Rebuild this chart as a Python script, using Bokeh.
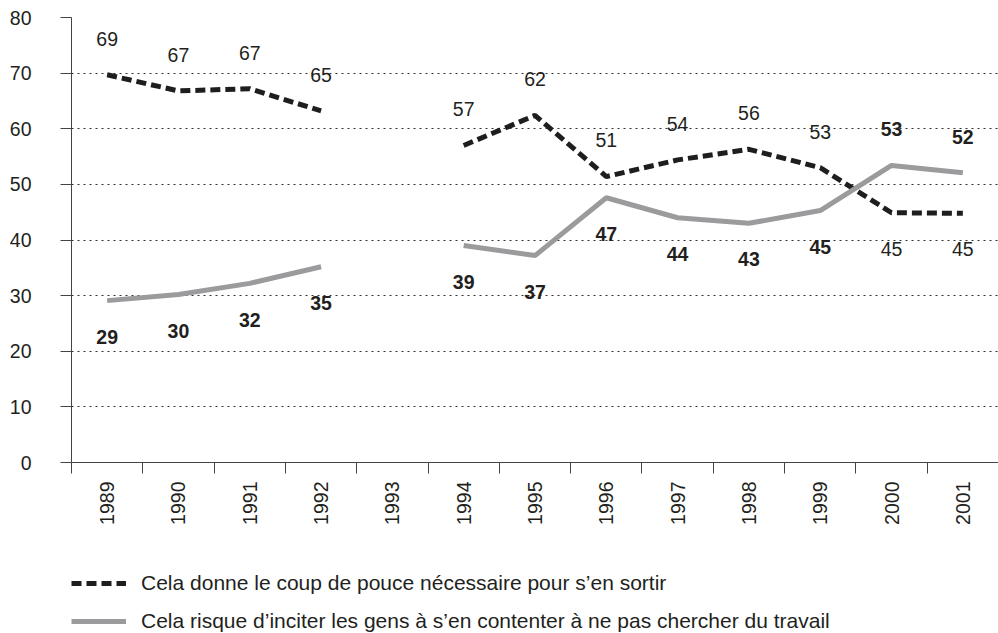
import math
import numpy as np
from bokeh.plotting import figure
from bokeh.layouts import column
from bokeh.models import ColumnDataSource, FixedTicker, Range1d, Legend, LegendItem
from bokeh.core.properties import value
from bokeh.embed import file_html
from bokeh.resources import INLINE

# ---- data ----
years = ["1989", "1990", "1991", "1992", "1993", "1994", "1995",
         "1996", "1997", "1998", "1999", "2000", "2001"]
coup_de_pouce = [69.7, 66.8, 67.2, 63.2, np.nan, 57.0, 62.4,
                 51.4, 54.4, 56.3, 53.0, 44.9, 44.8]
coup_labels = ["69", "67", "67", "65", "", "57", "62",
               "51", "54", "56", "53", "45", "45"]
contenter = [29.1, 30.2, 32.2, 35.2, np.nan, 39.0, 37.2,
             47.6, 44.0, 43.0, 45.3, 53.4, 52.1]
contenter_labels = ["29", "30", "32", "35", "", "39", "37",
                    "47", "44", "43", "45", "53", "52"]
y_ticks = [0, 10, 20, 30, 40, 50, 60, 70, 80]
legend_labels = [
    "Cela donne le coup de pouce nécessaire pour s’en sortir",
    "Cela risque d’inciter les gens à s’en contenter à ne pas chercher du travail",
]

FONT = "Liberation Sans"
FS = "19.5px"
LFS = "21px"
TXT = "#231f20"
DARK = "#1e1e1e"
GREY = "#9b9b9d"
DASH = "10 5"

n = len(years)
xs = np.arange(n) + 0.5
a = np.array(coup_de_pouce, dtype=float)
b = np.array(contenter, dtype=float)

p = figure(frame_width=927, frame_height=445, x_range=Range1d(0, n), y_range=Range1d(0, 80),
           output_backend="svg", toolbar_location=None,
           min_border_left=71, min_border_right=0, min_border_top=17,
           min_border_bottom=96)
p.outline_line_color = None
p.background_fill_color = "white"
p.border_fill_color = "white"

# lines
p.line(xs, a, line_color=DARK, line_width=5, line_dash=DASH)
p.line(xs, b, line_color=GREY, line_width=5)

# value labels: placed on the side away from the other series
off = 6.5
a_above = np.nan_to_num(a, nan=-1) >= np.nan_to_num(b, nan=-1)
valid = ~np.isnan(a)
ya = np.where(a_above, a + off, a - off)
yb = np.where(a_above, b - off, b + off)
src_a = ColumnDataSource(dict(x=xs[valid], y=ya[valid],
                              t=[s for s, v in zip(coup_labels, valid) if v]))
src_b = ColumnDataSource(dict(x=xs[valid], y=yb[valid],
                              t=[s for s, v in zip(contenter_labels, valid) if v]))
p.text("x", "y", text="t", source=src_a, text_align="center", text_baseline="middle",
       text_font=value(FONT), text_font_size=FS, text_color=TXT)
p.text("x", "y", text="t", source=src_b, text_align="center", text_baseline="middle",
       text_font=value(FONT), text_font_size=FS, text_color=TXT, text_font_style="bold")

# grid
p.xgrid.visible = False
p.ygrid.ticker = FixedTicker(ticks=y_ticks[1:])
p.ygrid.grid_line_color = "#333333"
p.ygrid.grid_line_dash = "2 4"
p.ygrid.grid_line_width = 1

# y axis
ya_ax = p.yaxis[0]
ya_ax.ticker = FixedTicker(ticks=y_ticks)
ya_ax.axis_line_color = "#444444"
ya_ax.major_tick_line_color = "#444444"
ya_ax.major_tick_out = 11
ya_ax.major_tick_in = 0
ya_ax.minor_tick_line_color = None
ya_ax.major_label_standoff = 29
ya_ax.major_label_text_font = FONT
ya_ax.major_label_text_font_size = FS
ya_ax.major_label_text_color = TXT

# x axis: labels at category centres, tick marks at category boundaries
xa = p.xaxis[0]
xa.ticker = FixedTicker(ticks=list(xs), minor_ticks=list(range(n + 1)))
xa.major_label_overrides = {float(x): y for x, y in zip(xs, years)}
xa.major_label_orientation = math.pi / 2
xa.major_tick_out = 0
xa.major_tick_in = 0
xa.major_tick_line_color = None
xa.minor_tick_out = 11
xa.minor_tick_in = 0
xa.minor_tick_line_color = "#444444"
xa.axis_line_color = "#444444"
xa.major_label_standoff = 8
xa.major_label_text_font = FONT
xa.major_label_text_font_size = FS
xa.major_label_text_color = TXT

# ---- legend strip below the chart (series drawn out of view, only the key shows) ----
p2 = figure(width=998, height=75, output_backend="svg", toolbar_location=None,
            x_range=Range1d(0, n), y_range=Range1d(1000, 1001),
            x_axis_location=None, y_axis_location=None, min_border=0)
p2.outline_line_color = None
p2.grid.visible = False
l1 = p2.line(xs, a, line_color=DARK, line_width=5, line_dash=DASH)
l2 = p2.line(xs, b, line_color=GREY, line_width=5)
legend = Legend(items=[LegendItem(label=legend_labels[0], renderers=[l1]),
                       LegendItem(label=legend_labels[1], renderers=[l2])],
                location=(0, 0), orientation="vertical",
                glyph_width=55, glyph_height=20, label_height=20, spacing=14,
                padding=0, margin=0, label_standoff=15,
                label_text_font=FONT, label_text_font_size=LFS, label_text_color=TXT,
                border_line_color=None, background_fill_alpha=0)
p2.add_layout(legend)

layout = column(p, p2, spacing=0)
open("out.html", "w").write(file_html(layout, INLINE))
